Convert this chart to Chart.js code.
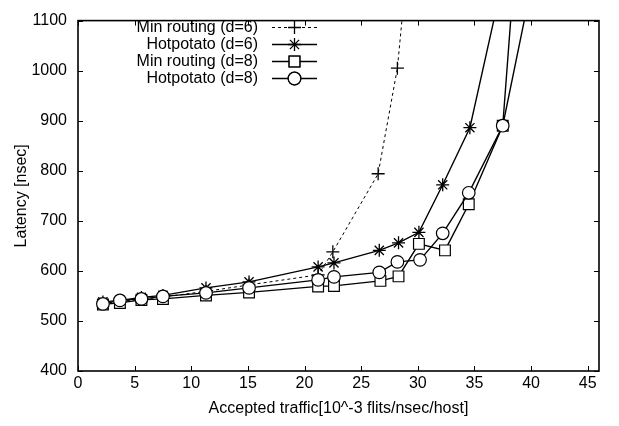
<!DOCTYPE html>
<html>
<head>
<meta charset="utf-8">
<title>Latency vs accepted traffic</title>
<script src="https://cdn.jsdelivr.net/npm/chart.js@4/dist/chart.umd.min.js"></script>
<style>
  html, body { margin: 0; padding: 0; background: #fff; }
  #wrap { width: 619px; height: 426px; }
</style>
</head>
<body>
<div id="wrap"><canvas id="latencyChart" width="619" height="426"></canvas></div>
<script>
// series (values above 1100 are off the top, estimated from the line direction)
const seriesNames = ['Min routing (d=6)', 'Hotpotato (d=6)', 'Min routing (d=8)', 'Hotpotato (d=8)'];

const minD6X = [2.2, 3.7, 5.6, 7.5, 11.3, 15.1, 21.2, 22.5, 26.5, 28.2, 29.0];
const minD6Y = [535, 539, 543, 548, 559, 572, 592, 638, 794, 1005, 1195];

const hotD6X = [2.2, 3.7, 5.6, 7.5, 11.3, 15.1, 21.2, 22.6, 26.6, 28.3, 30.1, 32.2, 34.6, 37.2];
const hotD6Y = [538, 541, 547, 551, 566, 578, 608, 616, 641, 656, 677, 772, 886, 1150];

const minD8X = [2.2, 3.7, 5.6, 7.5, 11.3, 15.1, 21.2, 22.6, 26.7, 28.3, 30.1, 32.4, 34.5, 37.5, 40.0];
const minD8Y = [533, 536, 542, 544, 551, 557, 569, 570, 580, 589, 654, 641, 733, 890, 1166];

const hotD8X = [2.2, 3.7, 5.6, 7.5, 11.3, 15.1, 21.2, 22.6, 26.6, 28.2, 30.2, 32.2, 34.5, 37.5, 38.5];
const hotD8Y = [534, 541, 544, 549, 556, 566, 582, 588, 597, 618, 622, 675, 756, 890, 1190];

const xTicks = [0, 5, 10, 15, 20, 25, 30, 35, 40, 45];
const yTicks = [400, 500, 600, 700, 800, 900, 1000, 1100];

const FONT = "'Liberation Sans', Arial, Helvetica, sans-serif";

function toPoints(xs, ys) {
  return xs.map((x, i) => ({ x: x, y: ys[i] }));
}

// gnuplot-style frame, inward ticks and key
const framePlugin = {
  id: 'frame',
  afterDraw(chart) {
    const ctx = chart.ctx;
    const a = chart.chartArea;
    const xs = chart.scales.x;
    const ys = chart.scales.y;
    ctx.save();
    ctx.strokeStyle = '#000';
    ctx.lineWidth = 1;
    const tl = 5;
    ctx.beginPath();
    xTicks.forEach(v => {
      const px = Math.round(xs.getPixelForValue(v)) + 0.5;
      ctx.moveTo(px, a.bottom); ctx.lineTo(px, a.bottom - tl);
      ctx.moveTo(px, a.top); ctx.lineTo(px, a.top + tl);
    });
    yTicks.forEach(v => {
      const py = Math.round(ys.getPixelForValue(v)) + 0.5;
      ctx.moveTo(a.left, py); ctx.lineTo(a.left + tl, py);
      ctx.moveTo(a.right, py); ctx.lineTo(a.right - tl, py);
    });
    ctx.stroke();
    ctx.lineWidth = 1.6;
    ctx.strokeRect(a.left, a.top, a.right - a.left, a.bottom - a.top);

    // key
    ctx.font = '16px ' + FONT;
    ctx.fillStyle = '#000';
    ctx.textAlign = 'right';
    ctx.textBaseline = 'middle';
    const textX = 258, lineX0 = 272, lineX1 = 317, markX = 294.5;
    chart.data.datasets.forEach((ds, i) => {
      const y = 27 + i * 17;
      ctx.fillText(ds.label, textX, y + 1);
      ctx.lineWidth = ds.borderWidth;
      ctx.setLineDash(ds.borderDash || []);
      ctx.beginPath();
      ctx.moveTo(lineX0, y + 0.5); ctx.lineTo(lineX1, y + 0.5);
      ctx.stroke();
      ctx.setLineDash([]);
      ctx.lineWidth = 1.3;
      Chart.helpers.drawPoint(ctx, {
        pointStyle: ds.pointStyle,
        radius: ds.pointRadius,
        borderWidth: 1.3
      }, markX, y + 0.5);
      if (ds.pointBackgroundColor === '#fff') {
        ctx.fillStyle = '#fff';
        ctx.beginPath();
        if (ds.pointStyle === 'circle') {
          ctx.arc(markX, y + 0.5, ds.pointRadius, 0, Math.PI * 2);
        } else {
          const s = Math.SQRT1_2 * ds.pointRadius;
          ctx.rect(markX - s, y + 0.5 - s, 2 * s, 2 * s);
        }
        ctx.fill();
        ctx.stroke();
        ctx.fillStyle = '#000';
      }
    });
    ctx.restore();
  }
};

const ctx = document.getElementById('latencyChart').getContext('2d');
new Chart(ctx, {
  type: 'line',
  data: {
    datasets: [
      {
        label: seriesNames[0],
        data: toPoints(minD6X, minD6Y),
        borderColor: '#000',
        borderWidth: 1,
        borderDash: [3, 3],
        pointStyle: 'cross',
        pointRadius: 6.5,
        pointBorderWidth: 1.3,
        pointBorderColor: '#000',
        pointBackgroundColor: '#000',
        order: 4
      },
      {
        label: seriesNames[1],
        data: toPoints(hotD6X, hotD6Y),
        borderColor: '#000',
        borderWidth: 1.4,
        pointStyle: 'star',
        pointRadius: 6.5,
        pointBorderWidth: 1.3,
        pointBorderColor: '#000',
        pointBackgroundColor: '#000',
        order: 3
      },
      {
        label: seriesNames[2],
        data: toPoints(minD8X, minD8Y),
        borderColor: '#000',
        borderWidth: 1.4,
        pointStyle: 'rect',
        pointRadius: 7.6,
        pointBorderWidth: 1.2,
        pointBorderColor: '#000',
        pointBackgroundColor: '#fff',
        order: 2
      },
      {
        label: seriesNames[3],
        data: toPoints(hotD8X, hotD8Y),
        borderColor: '#000',
        borderWidth: 1.4,
        pointStyle: 'circle',
        pointRadius: 6.3,
        pointBorderWidth: 1.2,
        pointBorderColor: '#000',
        pointBackgroundColor: '#fff',
        order: 1
      }
    ]
  },
  options: {
    responsive: false,
    animation: false,
    events: [],
    layout: { padding: { top: 15, right: 20, left: 0, bottom: 0 } },
    plugins: {
      legend: { display: false },
      tooltip: { enabled: false }
    },
    scales: {
      x: {
        type: 'linear',
        min: 0,
        max: 46,
        grid: { display: false, drawTicks: false, tickLength: 0 },
        border: { display: false },
        afterFit: s => { s.height = 55; },
        afterBuildTicks: s => { s.ticks = xTicks.map(v => ({ value: v })); },
        ticks: {
          color: '#000',
          padding: 3,
          font: { family: FONT, size: 16 },
          callback: v => String(v)
        },
        title: {
          display: true,
          text: 'Accepted traffic[10^-3 flits/nsec/host]',
          color: '#000',
          font: { family: FONT, size: 16 },
          padding: { top: 0, bottom: 8 }
        }
      },
      y: {
        type: 'linear',
        min: 400,
        max: 1100,
        grid: { display: false, drawTicks: false, tickLength: 0 },
        border: { display: false },
        afterFit: s => { s.width = 78; },
        afterBuildTicks: s => { s.ticks = yTicks.map(v => ({ value: v })); },
        ticks: {
          color: '#000',
          padding: 11,
          font: { family: FONT, size: 16 },
          callback: v => String(v)
        },
        title: {
          display: true,
          text: 'Latency [nsec]',
          color: '#000',
          font: { family: FONT, size: 16 },
          padding: { top: 12, bottom: 0 }
        }
      }
    }
  },
  plugins: [framePlugin]
});
</script>
</body>
</html>
